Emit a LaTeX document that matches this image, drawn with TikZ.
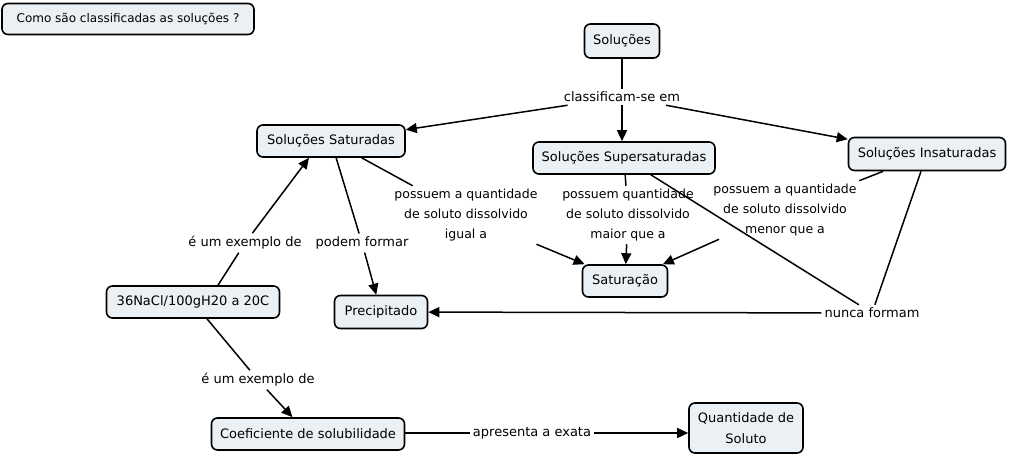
\documentclass[tikz,border=0pt]{standalone}
\usepackage{fontspec}
\setmainfont{DejaVu Sans}
\usetikzlibrary{arrows.meta}
\definecolor{boxfill}{RGB}{234,240,243}
\begin{document}
\begin{tikzpicture}[x=1pt,y=-1pt,
 concept/.style={draw=black, line width=1.6pt, rounded corners=6pt, fill=boxfill, inner sep=0pt, minimum height=32pt, align=center, font=\fontsize{13}{21}\selectfont},
 lbl/.style={inner sep=3pt, align=center, font=\fontsize{13}{20}\selectfont},
 conn/.style={line width=1.5pt},
 arr/.style={conn, -{Triangle[length=11pt,width=10pt]}}]
\useasboundingbox (0,0) rectangle (1010,455);

\node[concept, minimum width=252pt, minimum height=31pt, font=\fontsize{12}{20}\selectfont] (q) at (128,19) {Como são classificadas as soluções ?};
\node[concept, minimum width=75pt, minimum height=34pt] (sol) at (622,41) {Soluções};
\node[lbl] (cls) at (622,97) {classificam-se em};
\node[concept, minimum width=148pt] (sat) at (331,141) {Soluções Saturadas};
\node[concept, minimum width=182pt] (sup) at (624,158) {Soluções Supersaturadas};
\node[concept, minimum width=157pt, minimum height=33pt] (ins) at (927,154) {Soluções Insaturadas};
\node[lbl, font=\fontsize{12.5}{20}\selectfont] (igual) at (466,215) {possuem a quantidade\\de soluto dissolvido\\igual a};
\node[lbl, font=\fontsize{12.5}{20}\selectfont] (maior) at (628,215) {possuem quantidade\\de soluto dissolvido\\maior que a};
\node[lbl, font=\fontsize{12.5}{20}\selectfont] (menor) at (785,210) {possuem a quantidade\\de soluto dissolvido\\menor que a};
\node[concept, minimum width=85pt] (satur) at (625,281) {Saturação};
\node[lbl] (ex1) at (245,243) {é um exemplo de};
\node[lbl] (pod) at (362,243) {podem formar};
\node[concept, minimum width=173pt] (nacl) at (193,302) {36NaCl/100gH20 a 20C};
\node[concept, minimum width=93pt, minimum height=33pt] (prec) at (381,312) {Precipitado};
\node[lbl] (nunca) at (872,313) {nunca formam};
\node[lbl] (ex2) at (258,380) {é um exemplo de};
\node[concept, minimum width=193pt] (coef) at (308,434) {Coeficiente de solubilidade};
\node[lbl] (apr) at (532,433) {apresenta a exata};
\node[concept, minimum width=114pt, minimum height=50pt] (qs) at (746,428) {Quantidade de\\Soluto};

\draw[conn] (sol) -- (cls);
\draw[arr] (cls) -- (sat);
\draw[arr] (cls) -- (cls |- sup.north);
\draw[arr] (cls) -- (ins);
\draw[conn] (sat) -- (igual);
\draw[arr] (igual) -- (satur);
\draw[conn] (sup) -- (maior);
\draw[arr] (maior) -- (satur);
\draw[conn] (ins) -- (menor);
\draw[arr] (menor) -- (satur);
\draw[conn] (sat) -- (pod);
\draw[arr] (pod) -- (prec);
\draw[conn] (sup) -- (nunca);
\draw[conn] (ins) -- (nunca);
\draw[arr] (nunca) -- (prec);
\draw[conn] ([xshift=25pt]nacl.north) -- (ex1);
\draw[arr] (ex1) -- ([xshift=-22pt]sat.south);
\draw[conn] (nacl) -- (ex2);
\draw[arr] (ex2) -- (coef);
\draw[conn] (coef.east |- apr) -- (apr);
\draw[arr] (apr) -- (qs.west |- apr);
\end{tikzpicture}
\end{document}
